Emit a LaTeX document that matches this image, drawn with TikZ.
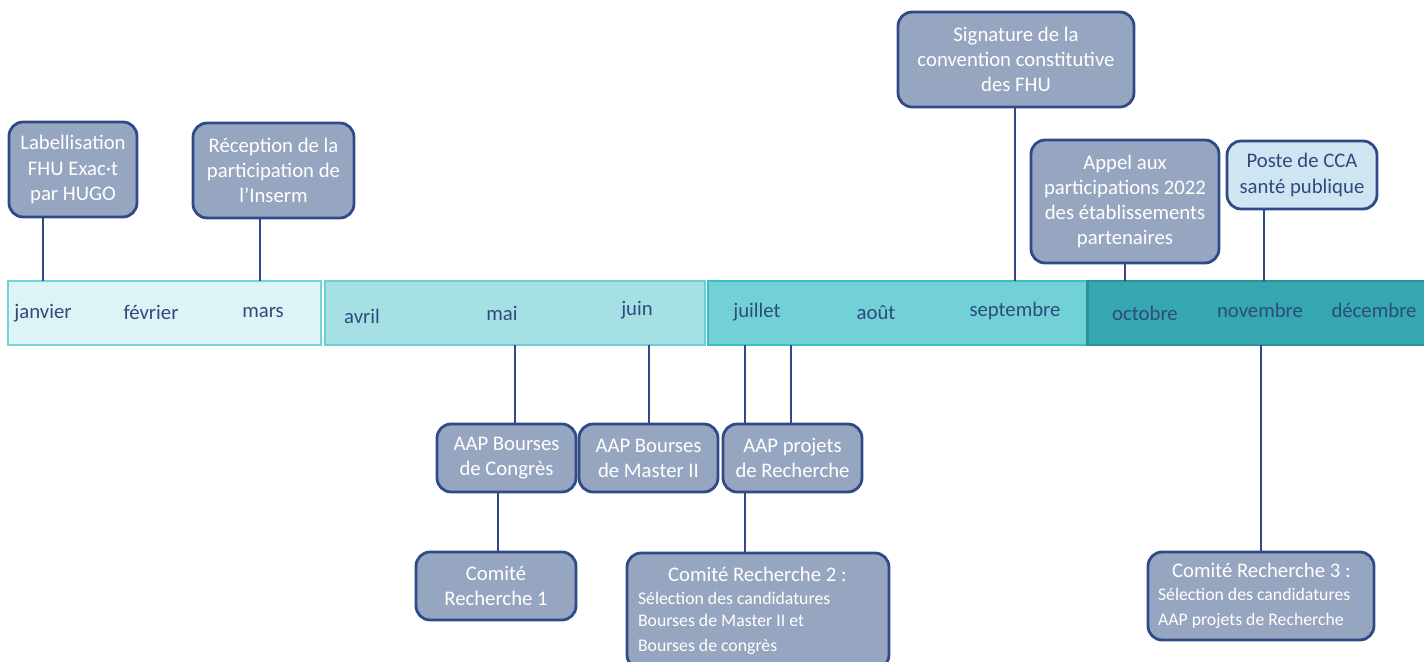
\documentclass[tikz,border=0pt]{standalone}
\usepackage{fontspec}
\setmainfont{Carlito}
\usepackage{tikz}
\usetikzlibrary{positioning}

\definecolor{evfill}{HTML}{97A6C0}
\definecolor{evline}{HTML}{2F4A86}
\definecolor{ccafill}{HTML}{CFE6F2}
\definecolor{navy}{HTML}{2F4A7E}
\definecolor{qfillA}{HTML}{DDF3F5}
\definecolor{qlineA}{HTML}{74D3D7}
\definecolor{qfillB}{HTML}{A5E1E4}
\definecolor{qlineB}{HTML}{6CCFD3}
\definecolor{qfillC}{HTML}{72D1D6}
\definecolor{qlineC}{HTML}{3DBFC6}
\definecolor{qfillD}{HTML}{35A7AE}
\definecolor{qlineD}{HTML}{2A9299}

\newcommand{\evfont}{\fontsize{11.8}{14.3}\selectfont}
\newcommand{\subfont}{\fontsize{10.1}{12.5}\selectfont}

\tikzset{event/.style={draw=evline,line width=1.6pt,fill=evfill,rounded corners=8pt,
  text=white,align=center,font=\evfont,inner sep=2pt}}
\tikzset{quarter/.style={line width=1.6pt,minimum height=1.28cm,inner sep=0pt}}
\tikzset{month/.style={text=navy,font=\evfont,inner sep=1pt}}
\tikzset{stem/.style={draw=evline,line width=1.6pt}}

\begin{document}
\begin{tikzpicture}[x=0.02cm,y=-0.02cm]
	\useasboundingbox (0,0) rectangle (1424,662);
	\clip (0,0) rectangle (1424,662);
	
	% bandes trimestrielles
	\node[quarter,draw=qlineA,fill=qfillA,minimum width=6.26cm] (q1) at (164.5,313) {};
	\node[quarter,draw=qlineB,fill=qfillB,minimum width=7.6cm] (q2) at (515,313) {};
	\node[quarter,draw=qlineC,fill=qfillC,minimum width=7.6cm] (q3) at (898,313) {};
	\node[quarter,draw=qlineD,fill=qfillD,minimum width=6.9cm] (q4) at (1260,313) {};
	
	\node[month] (jan) at (43,313) {janvier};
	\node[month] (feb) at (151,312) {février};
	\node[month] (mar) at (263,313) {mars};
	\node[month] (apr) at (362,316) {avril};
	\node[month] (may) at (502,313) {mai};
	\node[month] (jun) at (637,310) {juin};
	\node[month] (jul) at (757,312) {juillet};
	\node[month] (aug) at (876,313) {août};
	\node[month] (sep) at (1015,311) {septembre};
	\node[month] (oct) at (1145,313) {octobre};
	\node[month] (nov) at (1260,310) {novembre};
	\node[month] (dec) at (1374,310) {décembre};
	
	% au-dessus
	\node[event,minimum width=2.56cm,minimum height=1.9cm] (label) at (73,169.5)
	{Labellisation\\FHU Exac·t\\par HUGO};
	\node[event,minimum width=3.22cm,minimum height=1.9cm] (inserm) at (273.5,170.5)
	{Réception de la\\participation de\\l’Inserm};
	\node[event,minimum width=4.72cm,minimum height=1.9cm] (conv) at (1016,59.5)
	{Signature de la\\convention constitutive\\des FHU};
	\node[event,minimum width=3.76cm,minimum height=2.46cm] (appel) at (1125,201.5)
	{Appel aux\\participations 2022\\des établissements\\partenaires};
	\node[event,fill=ccafill,text=navy,minimum width=3cm,minimum height=1.36cm] (cca) at (1302,175)
	{Poste de CCA\\santé publique};
	
	% en dessous
	\node[event,minimum width=2.78cm,minimum height=1.36cm] (congres) at (506.5,458)
	{AAP Bourses\\de Congrès};
	\node[event,minimum width=2.78cm,minimum height=1.36cm] (master) at (648.5,458)
	{AAP Bourses\\de Master II};
	\node[event,minimum width=2.78cm,minimum height=1.36cm] (projets) at (792.5,458)
	{AAP projets\\de Recherche};
	\node[event,minimum width=3.2cm,minimum height=1.36cm] (com1) at (496,586)
	{Comité\\Recherche 1};
	\node[event,minimum width=5.24cm,minimum height=2.32cm,text width=4.8cm,align=flush left] (com2) at (758,611)
	{\hspace*{0.6cm}Comité Recherche 2 :\\[0.5pt]
	 \subfont Sélection des candidatures\\Bourses de Master II et\\Bourses de congrès};
	\node[event,minimum width=4.52cm,minimum height=1.76cm,text width=4.12cm,align=flush left] (com3) at (1261,596)
	{\hspace*{0.28cm}Comité Recherche 3 :\\[0.5pt]
	 \subfont Sélection des candidatures\\AAP projets de Recherche};
	
	% points d'attache
	\coordinate (t1) at (43,281);
	\coordinate (t2) at (260,281);
	\coordinate (t3) at (1015,281);
	\coordinate (t4) at (1125,281);
	\coordinate (t5) at (1264,281);
	\coordinate (b1) at (515,345);
	\coordinate (b2) at (649,345);
	\coordinate (b3) at (745,345);
	\coordinate (b4) at (791,345);
	\coordinate (b5) at (1261,345);
	\coordinate (c1) at (498,492);
	
	\draw[stem] (label.south -| t1) -- (t1);
	\draw[stem] (inserm.south -| t2) -- (t2);
	\draw[stem] (conv.south -| t3) -- (t3);
	\draw[stem] (appel.south -| t4) -- (t4);
	\draw[stem] (cca.south -| t5) -- (t5);
	
	\draw[stem] (b1) -- (congres.north -| b1);
	\draw[stem] (b2) -- (master.north -| b2);
	\draw[stem] (b3) -- (projets.north -| b3);
	\draw[stem] (b4) -- (projets.north -| b4);
	\draw[stem] (b5) -- (com3.north -| b5);
	\draw[stem] (c1) -- (com1.north -| c1);
	\draw[stem] (projets.south -| b3) -- (com2.north -| b3);
\end{tikzpicture}
\end{document}
